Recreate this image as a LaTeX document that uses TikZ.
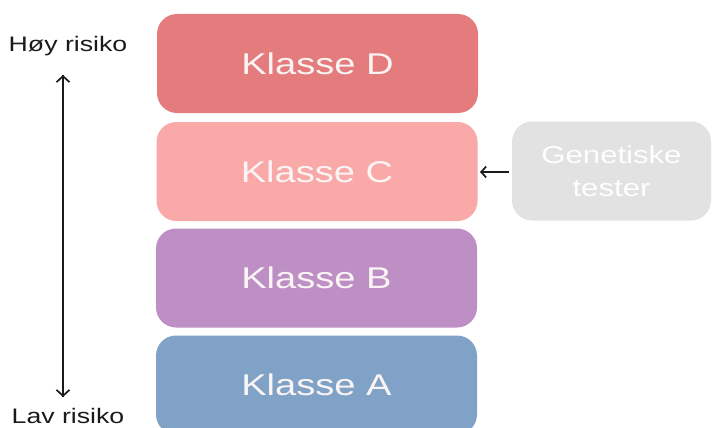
\documentclass[tikz,border=0pt]{standalone}
\usepackage{fontspec}
\setmainfont{Liberation Sans}
\usetikzlibrary{arrows.meta}
\definecolor{cD}{HTML}{E47C7E}
\definecolor{cC}{HTML}{F9A9A8}
\definecolor{cB}{HTML}{BE8FC5}
\definecolor{cA}{HTML}{7FA2C6}
\definecolor{cG}{HTML}{E2E2E2}
\definecolor{txtW}{HTML}{FAF4F4}
\definecolor{txtK}{HTML}{1A1A1A}
\newcommand{\wide}[1]{\scalebox{1.27}[1]{#1}}
\tikzset{
  klasse/.style={rectangle, rounded corners=20pt, minimum width=321pt, minimum height=99pt, inner sep=0pt, text=txtW, font=\fontsize{30}{36}\selectfont},
  gen/.style={rectangle, rounded corners=20pt, fill=cG, minimum width=199pt, minimum height=99pt, inner sep=0pt, text=white!96!cG, align=center, font=\fontsize{24.5}{33}\selectfont},
  risk/.style={text=txtK, inner sep=0pt, anchor=base, font=\fontsize{21}{25}\selectfont},
  arr/.style={line width=1.7pt, draw=txtK, -{Straight Barb[length=6pt,width=13pt,line width=1.7pt]}}
}
\begin{document}
\begin{tikzpicture}[x=1pt,y=-1pt]
\useasboundingbox (0,0) rectangle (712,428);
\node[klasse, fill=cD] (D) at (317.5,63.5) {\wide{Klasse D}};
\node[klasse, fill=cC] (C) at (317,171.5) {\wide{Klasse C}};
\node[klasse, fill=cB] (B) at (316.5,278) {\wide{Klasse B}};
\node[klasse, fill=cA] (A) at (316.5,385) {\wide{Klasse A}};
\node[gen] (G) at (611.5,171) {\wide{Genetiske}\\\wide{tester}};
\node[risk] (hoy) at (68,52) {\wide{Høy risiko}};
\node[risk] (lav) at (68,423) {\wide{Lav risiko}};
\coordinate (top) at (63,75);
\coordinate (bot) at (63,397);
\draw[arr] (bot) -- (top);
\draw[arr] (top) -- (bot);
\coordinate (gs) at (509,172);
\coordinate (ce) at (480,172);
\draw[line width=1.7pt, draw=txtK, -{Straight Barb[length=5pt,width=11pt,line width=1.7pt]}] (gs) -- (ce);
\end{tikzpicture}
\end{document}
